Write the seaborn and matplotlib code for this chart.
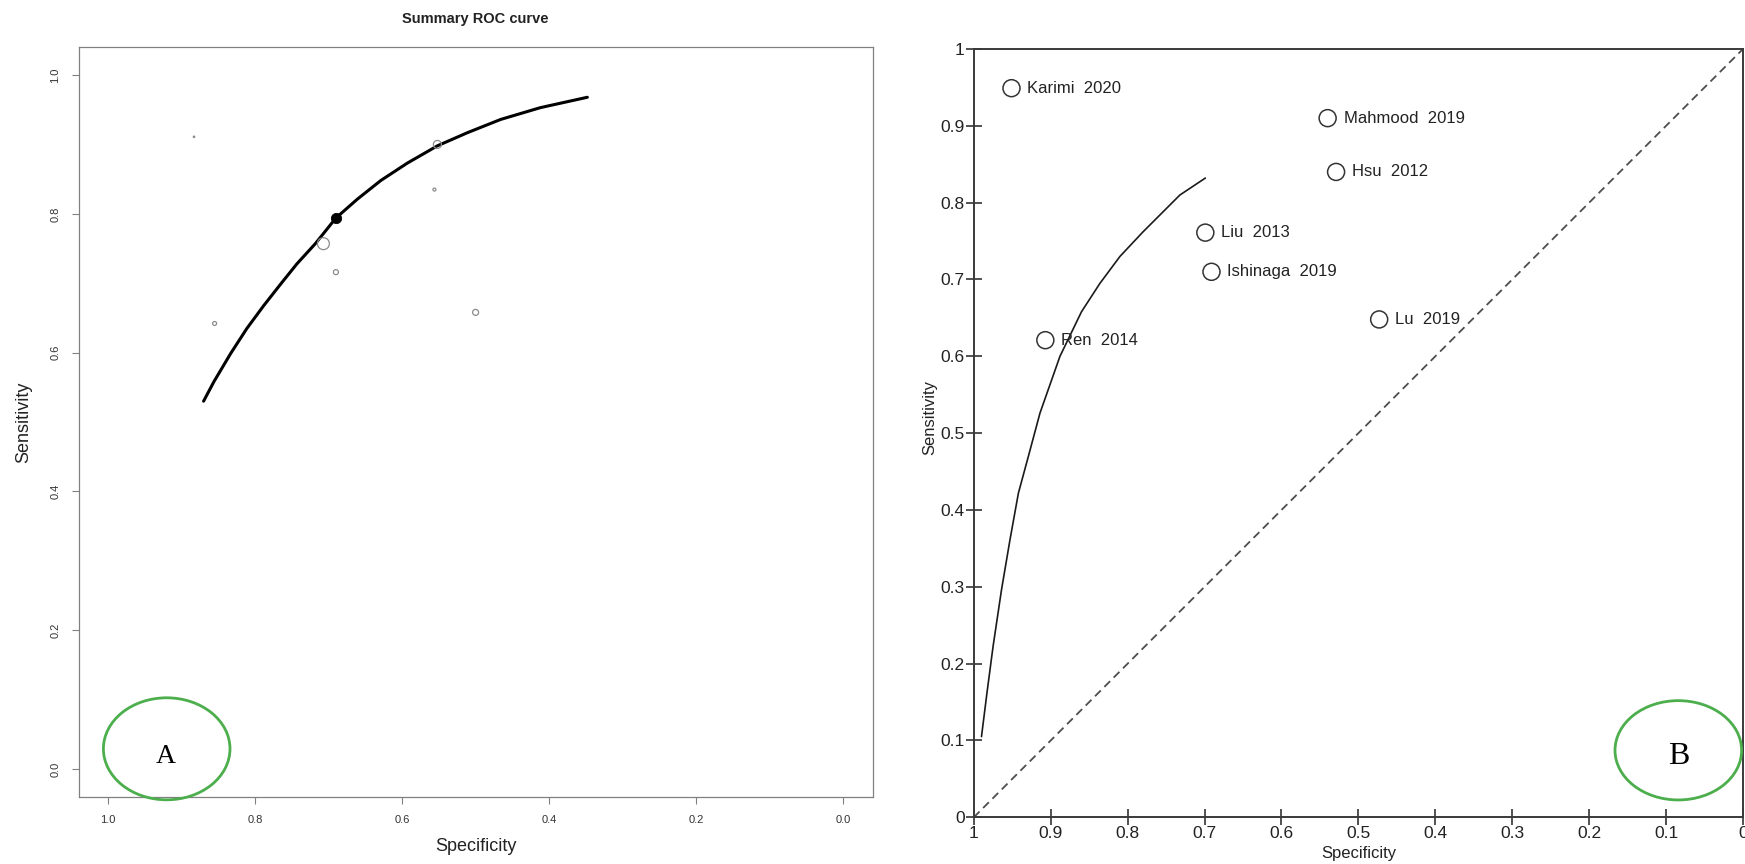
import numpy as np
import matplotlib
matplotlib.use("Agg")
import matplotlib.pyplot as plt
from matplotlib.patches import Ellipse
from matplotlib.ticker import FuncFormatter
import seaborn as sns

# ---- panel A: bivariate summary ROC (R style) ----
sroc_spec_a = [0.870, 0.856, 0.833, 0.811, 0.788, 0.765, 0.743, 0.718, 0.690,
               0.661, 0.629, 0.593, 0.552, 0.511, 0.466, 0.412, 0.348]
sroc_sens_a = [0.530, 0.558, 0.599, 0.635, 0.668, 0.699, 0.728, 0.757, 0.794,
               0.821, 0.848, 0.873, 0.898, 0.917, 0.936, 0.953, 0.968]
summary_spec_a = [0.690]
summary_sens_a = [0.794]
study_spec_a = [0.883, 0.855, 0.707, 0.690, 0.552, 0.556, 0.500]
study_sens_a = [0.911, 0.642, 0.757, 0.716, 0.900, 0.835, 0.658]
study_weight_a = [0.12, 0.33, 1.0, 0.42, 0.67, 0.25, 0.5]
ticks_a = [0.0, 0.2, 0.4, 0.6, 0.8, 1.0]

# ---- panel B: SROC curve (Meta-DiSc style) ----
study_names_b = ["Karimi  2020", "Mahmood  2019", "Hsu  2012", "Liu  2013",
                 "Ishinaga  2019", "Lu  2019", "Ren  2014"]
study_spec_b = [0.951, 0.540, 0.529, 0.699, 0.691, 0.473, 0.907]
study_sens_b = [0.949, 0.910, 0.840, 0.761, 0.710, 0.648, 0.621]
sroc_spec_b = [0.990, 0.983, 0.975, 0.964, 0.953, 0.942, 0.929, 0.914, 0.888,
               0.860, 0.836, 0.810, 0.780, 0.758, 0.732, 0.699]
sroc_sens_b = [0.105, 0.161, 0.222, 0.296, 0.361, 0.422, 0.470, 0.526, 0.600,
               0.658, 0.695, 0.730, 0.762, 0.784, 0.810, 0.832]
diag_spec = [1.0, 0.0]
diag_sens = [0.0, 1.0]
ticks_b = [0.0, 0.1, 0.2, 0.3, 0.4, 0.5, 0.6, 0.7, 0.8, 0.9, 1.0]

sns.set_theme(style="white")
plt.rcParams["font.family"] = ["Liberation Sans", "DejaVu Sans"]

fig = plt.figure(figsize=(17.45, 8.64), dpi=100)
ax_a = fig.add_axes([0.04504, 0.07789, 0.45501, 0.86736])
ax_b = fig.add_axes([0.55805, 0.05405, 0.44080, 0.88924])

# panel A
sns.lineplot(x=sroc_spec_a, y=sroc_sens_a, sort=False, estimator=None,
             color="black", lw=2.2, ax=ax_a)
sizes_a = (np.array(study_weight_a) * 8.6) ** 2
sns.scatterplot(x=study_spec_a, y=study_sens_a, s=sizes_a, facecolors="none",
                edgecolor="#8c8c8c", linewidth=0.9, ax=ax_a, zorder=3)
sns.scatterplot(x=summary_spec_a, y=summary_sens_a, s=55, color="black",
                edgecolor="black", ax=ax_a, zorder=4)

ax_a.set_xlim(1.04, -0.04)
ax_a.set_ylim(-0.04, 1.04)
ax_a.set_xticks(ticks_a)
ax_a.set_yticks(ticks_a)
ax_a.set_xticklabels([f"{t:.1f}" for t in ticks_a])
ax_a.set_yticklabels([f"{t:.1f}" for t in ticks_a], rotation=90, va="center")
ax_a.tick_params(direction="out", length=5, width=0.8, color="#808080",
                 labelsize=8, labelcolor="#333333", pad=8, left=True, bottom=True)
for sp in ax_a.spines.values():
    sp.set_visible(True)
    sp.set_color("#808080")
    sp.set_linewidth(0.9)
ax_a.set_title("Summary ROC curve", fontsize=10.5, fontweight="bold",
               color="#222222", y=1.0381, pad=0, va="center")
ax_a.set_xlabel("Specificity", fontsize=13, color="#222222", va="center")
ax_a.set_ylabel("Sensitivity", fontsize=13, color="#222222", va="center")
ax_a.xaxis.set_label_coords(0.5, -0.067)
ax_a.yaxis.set_label_coords(-0.069, 0.5)

# panel B
sns.lineplot(x=diag_spec, y=diag_sens, sort=False, estimator=None,
             color="#4d4d4d", lw=1.3, linestyle=(0, (4.5, 2.8)), ax=ax_b)
sns.lineplot(x=sroc_spec_b, y=sroc_sens_b, sort=False, estimator=None,
             color="#1a1a1a", lw=1.2, ax=ax_b)
sns.scatterplot(x=study_spec_b, y=study_sens_b, s=150, facecolors="none",
                edgecolor="#333333", linewidth=1.1, ax=ax_b, zorder=3)
for name, x, y in zip(study_names_b, study_spec_b, study_sens_b):
    ax_b.annotate(name, (x, y), xytext=(11.5, 0), textcoords="offset points",
                  ha="left", va="center", fontsize=12, color="#222222")

ax_b.set_xlim(1, 0)
ax_b.set_ylim(0, 1)
ax_b.set_xticks(ticks_b)
ax_b.set_yticks(ticks_b)
fmt = FuncFormatter(lambda v, _: f"{v:g}")
ax_b.xaxis.set_major_formatter(fmt)
ax_b.yaxis.set_major_formatter(fmt)
ax_b.tick_params(direction="inout", length=11, width=1.2, color="#333333",
                 labelsize=12.5, labelcolor="#222222", pad=1, left=True, bottom=True)
for sp in ax_b.spines.values():
    sp.set_visible(True)
    sp.set_color("#3a3a3a")
    sp.set_linewidth(1.4)
ax_b.set_xlabel("Specificity", fontsize=12, color="#222222", va="center")
ax_b.set_ylabel("Sensitivity", fontsize=12, color="#222222", va="center")
ax_b.xaxis.set_label_coords(0.5, -0.0465)
ax_b.yaxis.set_label_coords(-0.0575, 0.52)

# green panel markers
green = "#4cae4c"
fig.add_artist(Ellipse((0.09553, 0.13333), 0.07255, 0.11806, transform=fig.transFigure,
                       fill=False, edgecolor=green, lw=2))
fig.add_artist(Ellipse((0.96178, 0.13160), 0.07255, 0.11493, transform=fig.transFigure,
                       fill=False, edgecolor=green, lw=2))
fig.text(0.09496, 0.1245, "A", family=["Liberation Serif", "DejaVu Serif"],
         fontsize=20, ha="center", va="center", color="black")
fig.text(0.96178, 0.1245, "B", family=["Liberation Serif", "DejaVu Serif"],
         fontsize=23, ha="center", va="center", color="black")

fig.savefig("out.png", dpi=100)
